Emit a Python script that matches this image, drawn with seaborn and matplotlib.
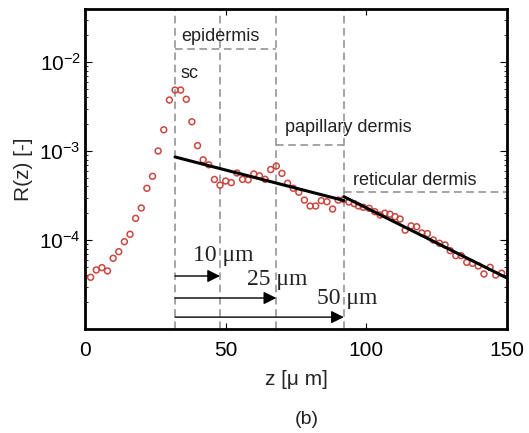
import matplotlib
matplotlib.use("Agg")
import matplotlib.pyplot as plt
import seaborn as sns
import pandas as pd
from matplotlib.ticker import LogLocator, NullFormatter

# ---- data ----
z_um = [2, 4, 6, 8, 10, 12, 14, 16, 18, 20, 22, 24, 26, 28, 30, 32, 34, 36, 38, 40,
        42, 44, 46, 48, 50, 52, 54, 56, 58, 60, 62, 64, 66, 68, 70, 72, 74, 76, 78, 80,
        82, 84, 86, 88, 90, 92, 93.8, 95.7, 97.2, 98.9, 101, 103, 104.9, 106.6, 108.4,
        110.2, 112, 113.8, 115.9, 117.9, 119.7, 121.7, 123.8, 126, 128, 129.8, 131.8,
        133.7, 135.7, 137.7, 139.8, 141.8, 144, 146, 148.1]
R_vals = [3.81e-5, 4.60e-5, 4.89e-5, 4.49e-5, 6.23e-5, 7.39e-5, 9.57e-5, 1.16e-4, 1.75e-4,
          2.29e-4, 3.81e-4, 5.20e-4, 1.0e-3, 1.73e-3, 3.74e-3, 4.84e-3, 4.84e-3, 3.81e-3,
          2.13e-3, 1.15e-3, 7.96e-4, 7.0e-4, 4.79e-4, 4.13e-4, 4.60e-4, 4.41e-4, 5.66e-4,
          4.80e-4, 4.75e-4, 5.52e-4, 5.26e-4, 4.81e-4, 6.19e-4, 6.78e-4, 5.61e-4, 4.34e-4,
          3.81e-4, 3.44e-4, 2.81e-4, 2.41e-4, 2.41e-4, 2.77e-4, 2.69e-4, 2.23e-4, 2.81e-4,
          2.85e-4, 2.67e-4, 2.56e-4, 2.41e-4, 2.33e-4, 2.27e-4, 2.08e-4, 1.91e-4, 2.0e-4,
          1.95e-4, 1.83e-4, 1.72e-4, 1.29e-4, 1.44e-4, 1.41e-4, 1.20e-4, 1.18e-4, 1.0e-4,
          9.18e-5, 8.79e-5, 7.59e-5, 6.67e-5, 6.67e-5, 5.61e-5, 5.47e-5, 5.11e-5, 4.15e-5,
          4.93e-5, 4.04e-5, 4.23e-5]

fit1_z = [32, 92]
fit1_R = [8.57e-4, 2.78e-4]
fit2_z = [92, 150]
fit2_R = [3.07e-4, 3.74e-5]

layer_bounds = [32, 48, 68, 92]          # vertical dashed lines
epi_z = [32, 68];  epi_R = 1.4e-2
pap_z = [68, 92];  pap_R = 1.18e-3
ret_z = [92, 150]; ret_R = 3.46e-4

arrow_ends = [48, 68, 92]
arrow_R = [3.94e-5, 2.23e-5, 1.36e-5]
arrow_labels = ["10 μm", "25 μm", "50 μm"]
arrow_label_pos = [(38.4, 6.78e-5), (57.6, 3.56e-5), (82.4, 2.21e-5)]

xticks = [0, 50, 100, 150]
yticks = [1e-4, 1e-3, 1e-2]

# ---- style ----
sns.set_style("ticks")
plt.rcParams['font.family'] = ['Liberation Sans', 'DejaVu Sans']
plt.rcParams['mathtext.fontset'] = 'custom'
plt.rcParams['mathtext.rm'] = 'Liberation Sans'
plt.rcParams['mathtext.it'] = 'Liberation Sans'

fig = plt.figure(figsize=(5.29, 4.33), dpi=100)
ax = fig.add_axes([85/529, 1-329/433, 422/529, 320/433])

grey = '#8c8c8c'
dash = (0, (5, 3))
for xb in layer_bounds:
    ax.axvline(xb, color=grey, lw=1.1, ls=dash, zorder=1)
ax.plot(epi_z, [epi_R, epi_R], color=grey, lw=1.1, ls=dash, zorder=1)
ax.plot(pap_z, [pap_R, pap_R], color=grey, lw=1.1, ls=dash, zorder=1)
ax.plot(ret_z, [ret_R, ret_R], color=grey, lw=1.1, ls=dash, zorder=1)

df = pd.DataFrame({"z": z_um, "R": R_vals})
sns.scatterplot(data=df, x="z", y="R", ax=ax, marker="o", s=18,
                facecolor="none", edgecolor="#c9473f", linewidth=1.1, zorder=3)

sns.lineplot(x=fit1_z, y=fit1_R, ax=ax, color="black", lw=2.2, zorder=4)
sns.lineplot(x=fit2_z, y=fit2_R, ax=ax, color="black", lw=2.2, zorder=4)

ax.set_yscale("log")
ax.set_xlim(0, 150)
ax.set_ylim(1e-5, 3.94e-2)
ax.set_xticks(xticks)
ax.set_xticklabels([str(t) for t in xticks])
ax.set_yticks(yticks)
ax.yaxis.set_minor_locator(LogLocator(base=10, subs=range(2, 10)))
ax.yaxis.set_minor_formatter(NullFormatter())

ax.tick_params(axis='both', which='both', direction='in', top=True, right=True,
               colors='black', labelsize=15)
ax.tick_params(axis='x', which='major', length=4, width=0.8, pad=9)
ax.tick_params(axis='y', which='major', length=5, width=0.8, pad=3)
ax.tick_params(axis='y', which='minor', length=2.5, width=0.6)
for sp in ax.spines.values():
    sp.set_linewidth(2.0)
    sp.set_color('black')

ax.set_xlabel("z [μ m]", fontsize=15)
ax.xaxis.set_label_coords(0.5, -0.128)
ax.set_ylabel("R(z) [-]", fontsize=15)
ax.yaxis.set_label_coords(-0.123, 0.5)

tc = '#222222'
ax.text(34.1, 1.91e-2, "epidermis", fontsize=13, color=tc, va='center', ha='left')
ax.text(34.1, 7.52e-3, "sc", fontsize=13, color=tc, va='center', ha='left')
ax.text(71.1, 1.86e-3, "papillary dermis", fontsize=13, color=tc, va='center', ha='left')
ax.text(95.3, 4.72e-4, "reticular dermis", fontsize=13, color=tc, va='center', ha='left')

for xe, yr in zip(arrow_ends, arrow_R):
    ax.annotate("", xy=(xe, yr), xytext=(32, yr),
                arrowprops=dict(arrowstyle='-|>', color='black', lw=1.0,
                                mutation_scale=19, shrinkA=0, shrinkB=0), zorder=5)
for lab, (xt, yt) in zip(arrow_labels, arrow_label_pos):
    ax.text(xt, yt, lab, fontsize=17, family=['Liberation Serif', 'DejaVu Serif'],
            color=tc, va='center', ha='left')

fig.text(307/529, 1-420/433, "(b)", fontsize=14, ha='center', va='center', color=tc)

fig.savefig("out.png", dpi=100)
